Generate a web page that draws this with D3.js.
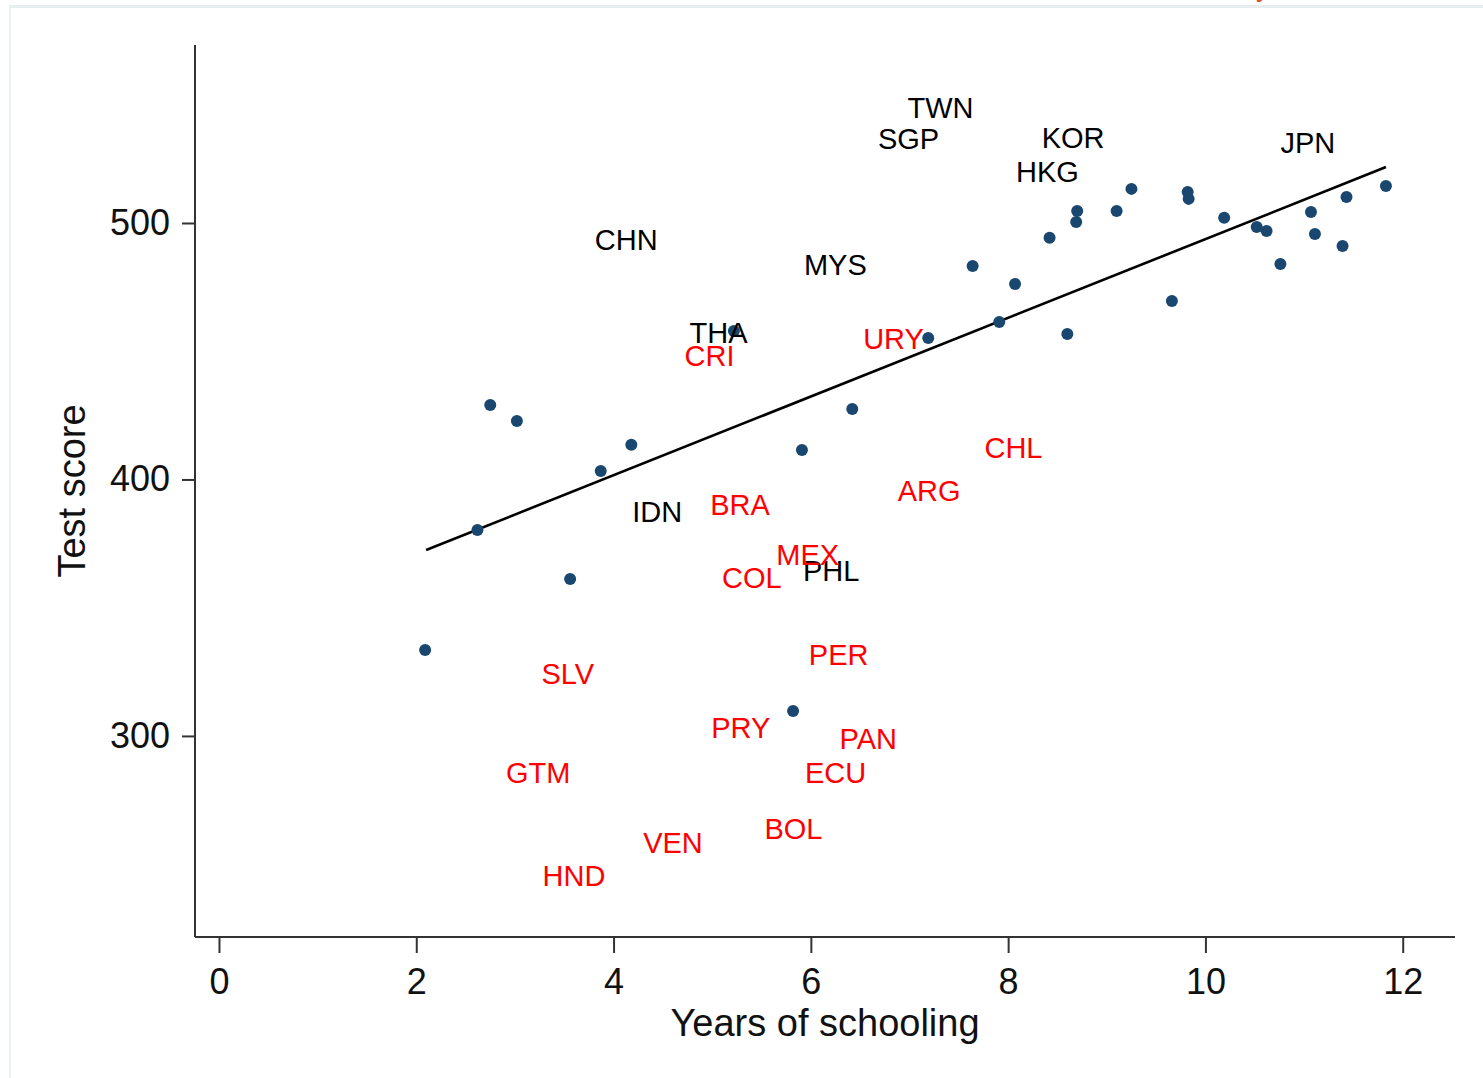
<!DOCTYPE html>
<html>
<head>
<meta charset="utf-8">
<script src="https://cdn.jsdelivr.net/npm/d3@7"></script>
<style>
  body { margin: 0; background: #fff; }
  svg { display: block; font-family: "Liberation Sans", Arial, sans-serif; }
</style>
</head>
<body>
<div id="chartDiv"></div>
<script>
// unlabeled countries (dots)
const dotYears = [2.09, 2.62, 2.75, 3.02, 3.56, 3.87, 4.18, 5.22, 5.91, 5.82, 6.42, 7.19, 7.64, 7.91, 8.07, 8.60,
                  8.42, 8.70, 8.69, 9.10, 9.25, 9.66, 9.82, 9.83, 10.19, 10.52, 10.62, 10.76, 11.07, 11.11, 11.39, 11.43, 11.83];
const dotScores = [333.5, 380.3, 429.0, 422.8, 361.2, 403.3, 413.5, 457.9, 411.5, 309.7, 427.5, 455.2, 483.2, 461.4, 476.2, 456.7,
                   494.2, 504.7, 500.4, 504.7, 513.3, 469.6, 512.1, 509.4, 502.0, 498.4, 496.9, 484.0, 504.3, 495.7, 491.0, 510.1, 514.4];

// labeled countries (label only)
const labelCodes = ["TWN", "SGP", "KOR", "HKG", "JPN", "CHN", "MYS", "THA", "IDN", "PHL",
                    "CRI", "URY", "CHL", "ARG", "BRA", "MEX", "COL", "PER", "SLV", "PRY", "PAN", "GTM", "ECU", "BOL", "VEN", "HND"];
const labelYears = [6.98, 6.68, 8.34, 8.08, 10.76, 3.81, 5.93, 4.77, 4.19, 5.92,
                    4.72, 6.53, 7.76, 6.88, 4.98, 5.65, 5.10, 5.98, 3.27, 4.99, 6.29, 2.91, 5.94, 5.53, 4.30, 3.28];
const labelScores = [545.2, 533.1, 533.5, 519.9, 531.2, 493.4, 483.6, 457.1, 387.3, 364.3,
                     448.5, 454.8, 412.3, 395.5, 390.1, 370.9, 361.6, 331.9, 324.2, 303.2, 298.8, 285.6, 285.6, 263.7, 258.3, 245.4];
const labelRegion = ["asia", "asia", "asia", "asia", "asia", "asia", "asia", "asia", "asia", "asia",
                     "latam", "latam", "latam", "latam", "latam", "latam", "latam", "latam", "latam", "latam", "latam", "latam", "latam", "latam", "latam", "latam"];

// fitted line endpoints
const fitYears = [2.10, 11.83];
const fitScores = [372.5, 521.8];

const xTicks = [0, 2, 4, 6, 8, 10, 12];
const yTicks = [300, 400, 500];

const w = 1483;
const h = 1078;
const plotLeft = 195, plotRight = 1455, plotTop = 45, plotBottom = 937;

const svg = d3.select("#chartDiv")
  .append("svg")
  .attr("width", w)
  .attr("height", h);

// faint page frame
svg.append("rect").attr("x", 9).attr("y", 5).attr("width", w - 9).attr("height", 3).attr("fill", "#e6eef0");
svg.append("rect").attr("x", 9).attr("y", 5).attr("width", 2).attr("height", h - 5).attr("fill", "#ebf1f2");
svg.append("text")
  .attr("x", 1256).attr("y", -4)
  .attr("font-size", 28)
  .attr("fill", "#e0502a")
  .text("y");

const xScale = d3.scaleLinear().domain([-0.243, 12.53]).range([plotLeft, plotRight]);
const yScale = d3.scaleLinear().domain([221.6, 569.4]).range([plotBottom, plotTop]);

const xAxis = d3.axisBottom(xScale).tickValues(xTicks).tickSize(16).tickPadding(15).tickFormat(d3.format("d"));
const yAxis = d3.axisLeft(yScale).tickValues(yTicks).tickSize(13).tickPadding(12).tickFormat(d3.format("d"));

const gx = svg.append("g").attr("transform", `translate(0, ${plotBottom})`).call(xAxis);
const gy = svg.append("g").attr("transform", `translate(${plotLeft}, 0)`).call(yAxis);

[gx, gy].forEach(g => {
  g.select(".domain").attr("stroke", "#333").attr("stroke-width", 2);
  g.selectAll(".tick line").attr("stroke", "#333").attr("stroke-width", 2);
  g.selectAll(".tick text")
    .attr("fill", "#111")
    .attr("font-size", 36)
    .attr("font-family", "Liberation Sans, Arial, sans-serif");
});
// straight spine without the outer ticks
gx.select(".domain").attr("d", `M${plotLeft},0H${plotRight}`);
gy.select(".domain").attr("d", `M0,${plotTop}V${plotBottom}`);

// axis titles
svg.append("text")
  .attr("x", (plotLeft + plotRight) / 2)
  .attr("y", 1036)
  .attr("text-anchor", "middle")
  .attr("font-size", 38)
  .attr("fill", "#111")
  .text("Years of schooling");

svg.append("text")
  .attr("transform", `translate(85, ${(plotTop + plotBottom) / 2}) rotate(-90)`)
  .attr("text-anchor", "middle")
  .attr("font-size", 38)
  .attr("fill", "#111")
  .text("Test score");

// fit line
svg.append("line")
  .attr("x1", xScale(fitYears[0])).attr("y1", yScale(fitScores[0]))
  .attr("x2", xScale(fitYears[1])).attr("y2", yScale(fitScores[1]))
  .attr("stroke", "#000")
  .attr("stroke-width", 2.6);

// dots
svg.selectAll("circle.dot")
  .data(dotYears.map((x, i) => [x, dotScores[i]]))
  .enter()
  .append("circle")
  .attr("class", "dot")
  .attr("cx", d => xScale(d[0]))
  .attr("cy", d => yScale(d[1]))
  .attr("r", 6)
  .attr("fill", "#1a476f");

// country labels
svg.selectAll("text.lab")
  .data(labelCodes.map((c, i) => ({c, x: labelYears[i], y: labelScores[i], r: labelRegion[i]})))
  .enter()
  .append("text")
  .attr("class", "lab")
  .attr("x", d => xScale(d.x))
  .attr("y", d => yScale(d.y))
  .attr("dy", "0.36em")
  .attr("font-size", 29)
  .attr("fill", d => d.r === "asia" ? "#000" : "#ff0000")
  .text(d => d.c);
</script>
</body>
</html>
